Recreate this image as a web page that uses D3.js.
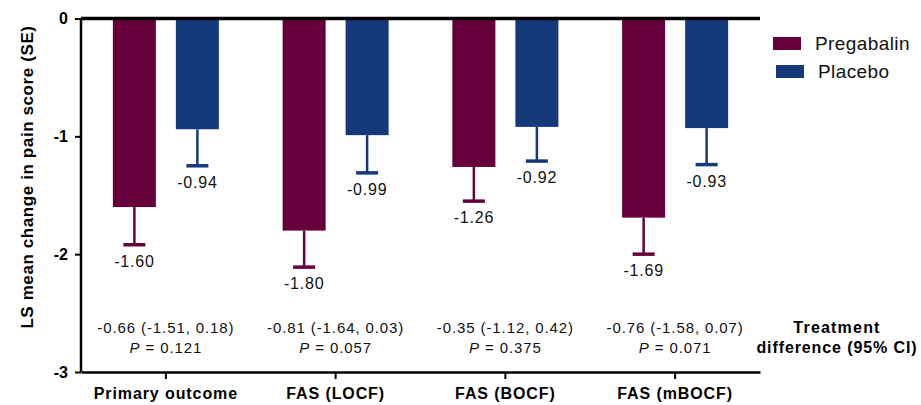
<!DOCTYPE html>
<html>
<head>
<meta charset="utf-8">
<script src="https://cdn.jsdelivr.net/npm/d3@7"></script>
<style>
  body { margin: 0; background: #fff; }
  svg { font-family: "Liberation Sans", Arial, sans-serif; }
</style>
</head>
<body>
<div id="chart"></div>
<script>
// data
var categories = ['Primary outcome', 'FAS (LOCF)', 'FAS (BOCF)', 'FAS (mBOCF)'];
var series = ['Pregabalin', 'Placebo'];
var pregabalinMeans = [-1.60, -1.80, -1.26, -1.69];
var pregabalinSE = [0.32, 0.31, 0.29, 0.31];
var placeboMeans = [-0.94, -0.99, -0.92, -0.93];
var placeboSE = [0.31, 0.32, 0.29, 0.31];
var diffLabels = ['-0.66 (-1.51, 0.18)', '-0.81 (-1.64, 0.03)', '-0.35 (-1.12, 0.42)', '-0.76 (-1.58, 0.07)'];
var pValues = ['0.121', '0.057', '0.375', '0.071'];
var yTicks = [0, -1, -2, -3];

(function() {
  var colors = {Pregabalin: '#65003a', Placebo: '#153a7b'};

  var width = 921, height = 405;
  var m = {left: 81, right: 760, top: 18.5, bottom: 372};

  var svg = d3.select('#chart').append('svg')
    .attr('width', width)
    .attr('height', height);

  var x0 = d3.scaleBand().domain(categories).range([m.left, m.right]).padding(0);
  var x1 = d3.scaleBand().domain(series).range([-53, 53]).paddingInner(0.3175);
  var y = d3.scaleLinear().domain([-3, 0]).range([m.bottom, m.top]);

  // flatten into one row per bar
  var rows = [];
  categories.forEach(function(c, i) {
    rows.push({cat: c, s: 'Pregabalin', v: pregabalinMeans[i], se: pregabalinSE[i]});
    rows.push({cat: c, s: 'Placebo', v: placeboMeans[i], se: placeboSE[i]});
  });
  function cx(d) { return x0(d.cat) + x0.bandwidth() / 2 + x1(d.s) + x1.bandwidth() / 2; }

  // bars
  svg.selectAll('rect.bar').data(rows).enter().append('rect')
    .attr('class', 'bar')
    .attr('x', function(d) { return cx(d) - x1.bandwidth() / 2; })
    .attr('y', y(0))
    .attr('width', x1.bandwidth())
    .attr('height', function(d) { return y(d.v) - y(0); })
    .attr('fill', function(d) { return colors[d.s]; });

  // error bars (downward only)
  svg.selectAll('line.err').data(rows).enter().append('line')
    .attr('x1', cx).attr('x2', cx)
    .attr('y1', function(d) { return y(d.v); })
    .attr('y2', function(d) { return y(d.v - d.se); })
    .attr('stroke', function(d) { return colors[d.s]; })
    .attr('stroke-width', 2.5);
  svg.selectAll('line.cap').data(rows).enter().append('line')
    .attr('x1', function(d) { return cx(d) - 11; })
    .attr('x2', function(d) { return cx(d) + 11; })
    .attr('y1', function(d) { return y(d.v - d.se); })
    .attr('y2', function(d) { return y(d.v - d.se); })
    .attr('stroke', function(d) { return colors[d.s]; })
    .attr('stroke-width', 3.5);

  // value labels
  svg.selectAll('text.val').data(rows).enter().append('text')
    .attr('x', cx)
    .attr('y', function(d) { return y(d.v - d.se) + 22; })
    .attr('text-anchor', 'middle')
    .attr('font-size', 16)
    .attr('letter-spacing', 0.8)
    .attr('fill', '#111')
    .text(function(d) { return d.v.toFixed(2); });

  // zero line at top
  svg.append('line')
    .attr('x1', m.left).attr('x2', m.right)
    .attr('y1', y(0)).attr('y2', y(0))
    .attr('stroke', '#000').attr('stroke-width', 3.5);

  // y axis
  var yAxis = svg.append('g')
    .attr('transform', 'translate(' + m.left + ',0)')
    .call(d3.axisLeft(y).tickValues(yTicks).tickFormat(d3.format('d')).tickSize(6).tickPadding(7));
  yAxis.select('.domain').attr('stroke-width', 2.5).attr('d', 'M0,' + m.top + 'V' + m.bottom);
  yAxis.selectAll('.tick line').attr('stroke-width', 2);
  yAxis.selectAll('.tick text')
    .attr('font-size', 16).attr('font-weight', 'bold').attr('fill', '#000')
    .attr('font-family', '"Liberation Sans", Arial, sans-serif')
    .text(function(d) { return d === 0 ? '0' : String(d); });

  // x axis
  var xAxis = svg.append('g')
    .attr('transform', 'translate(0,' + m.bottom + ')')
    .call(d3.axisBottom(x0).tickSize(7).tickPadding(9).tickSizeOuter(0));
  xAxis.select('.domain').attr('stroke-width', 2.5);
  xAxis.selectAll('.tick line').attr('stroke-width', 2);
  xAxis.selectAll('.tick text')
    .attr('font-size', 16).attr('font-weight', 'bold').attr('fill', '#000')
    .attr('letter-spacing', 0.9)
    .attr('font-family', '"Liberation Sans", Arial, sans-serif');

  // y axis title
  svg.append('text')
    .attr('transform', 'translate(33,177) rotate(-90)')
    .attr('text-anchor', 'middle')
    .attr('font-size', 17)
    .attr('font-weight', 'bold')
    .attr('letter-spacing', 0.6)
    .text('LS mean change in pain score (SE)');

  // treatment difference annotations
  var ann = svg.selectAll('g.ann').data(categories).enter().append('g')
    .attr('transform', function(d) { return 'translate(' + (x0(d) + x0.bandwidth() / 2) + ',0)'; });
  ann.append('text')
    .attr('y', 333).attr('text-anchor', 'middle').attr('font-size', 15)
    .attr('letter-spacing', 0.9).attr('fill', '#111')
    .text(function(d, i) { return diffLabels[i]; });
  var pt = ann.append('text')
    .attr('y', 353).attr('text-anchor', 'middle').attr('font-size', 15)
    .attr('letter-spacing', 0.9).attr('fill', '#111');
  pt.append('tspan').attr('font-style', 'italic').text('P');
  pt.append('tspan').text(function(d, i) { return ' = ' + pValues[i]; });

  svg.append('text')
    .attr('x', 837).attr('y', 333).attr('text-anchor', 'middle')
    .attr('font-size', 16).attr('font-weight', 'bold').attr('letter-spacing', 1.2)
    .text('Treatment');
  svg.append('text')
    .attr('x', 837).attr('y', 353).attr('text-anchor', 'middle')
    .attr('font-size', 16).attr('font-weight', 'bold').attr('letter-spacing', 0.9)
    .text('difference (95% CI)');

  // legend
  var legend = svg.selectAll('g.legend').data(series).enter().append('g')
    .attr('transform', function(d, i) { return 'translate(' + (773 + i * 3) + ',' + (37 + i * 28) + ')'; });
  legend.append('rect')
    .attr('width', 28).attr('height', 13)
    .attr('fill', function(d) { return colors[d]; });
  legend.append('text')
    .attr('x', 42).attr('y', 13)
    .attr('font-size', 19).attr('letter-spacing', 0.4).attr('fill', '#111')
    .text(function(d) { return d; });
})();
</script>
</body>
</html>
